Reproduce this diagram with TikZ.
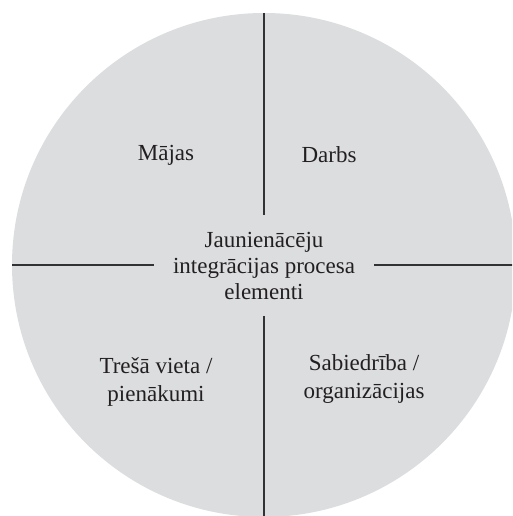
\documentclass[tikz,border=0pt]{standalone}
\usepackage{fontspec}
\setmainfont{Liberation Serif}
\definecolor{discgray}{RGB}{220,221,223}
\definecolor{rulegray}{RGB}{50,50,50}
\definecolor{inkgray}{RGB}{35,31,32}
\tikzset{
	part/.style={align=center,font=\fontsize{23}{26}\selectfont,text=inkgray},
	rule/.style={draw=rulegray,line width=1.1pt}
}
\begin{document}
\begin{tikzpicture}[x=1pt,y=-1pt]
	\useasboundingbox (0,0) rectangle (512,516);
	\clip (0,0) rectangle (512,516);
%	disc
	\fill[discgray] (264,265) circle (252);
%	cross, broken round the middle text
	\coordinate (n) at (264,13);
	\coordinate (s) at (264,517);
	\coordinate (w) at (12,265);
	\coordinate (e) at (516,265);
	\draw[rule] (n) -- (264,215);
	\draw[rule] (264,316) -- (s);
	\draw[rule] (w) -- (154,265);
	\draw[rule] (374,265) -- (e);
%	labels
	\node[part] (core) at (264,266) {Jaunienācēju\\integrācijas procesa\\elementi};
	\node[part] (home) at (166,155) {Mājas};
	\node[part] (work) at (329,155) {Darbs};
	\node[part,font=\fontsize{23}{28}\selectfont] (third) at (156,382) {Trešā vieta /\\pienākumi};
	\node[part,font=\fontsize{23}{28}\selectfont] (society) at (364,379) {Sabiedrība /\\organizācijas};
\end{tikzpicture}
\end{document}
